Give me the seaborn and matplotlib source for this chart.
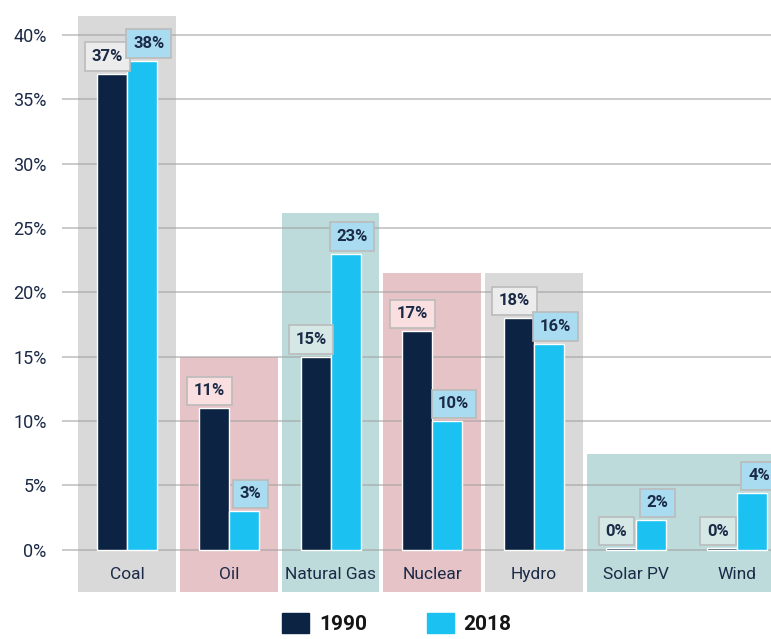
import pandas as pd
import matplotlib.pyplot as plt
import seaborn as sns
from matplotlib.patches import Rectangle, Patch

# share of electricity generation by source
sources = ["Coal", "Oil", "Natural Gas", "Nuclear", "Hydro", "Solar PV", "Wind"]
years = ["1990", "2018"]
share_1990 = [37.0, 11.0, 15.0, 17.0, 18.0, 0.1, 0.1]
share_2018 = [38.0, 3.0, 23.0, 10.0, 16.0, 2.3, 4.4]

# background panels behind the groups: first source, last source, tone, top
panel_first = ["Coal", "Oil", "Natural Gas", "Nuclear", "Hydro", "Solar PV"]
panel_last = ["Coal", "Oil", "Natural Gas", "Nuclear", "Hydro", "Wind"]
panel_tone = ["gray", "pink", "teal", "pink", "gray", "teal"]
panel_top = [41.5, 15.0, 26.2, 21.5, 21.5, 7.45]

navy = "#0c2344"
cyan = "#1ac1f1"
text_col = "#1b2a47"
panel_colors = {"gray": "#d9d9d9", "pink": "#e6c3c6", "teal": "#bddbda"}
label_face = {"gray": "#ececec", "pink": "#f9dfe0", "teal": "#d5e8e6"}

df = pd.DataFrame({
    "source": sources * 2,
    "year": [years[0]] * len(sources) + [years[1]] * len(sources),
    "share": share_1990 + share_2018,
})

sns.set_theme(style="white")
plt.rcParams["font.family"] = ["Roboto", "DejaVu Sans"]

fig = plt.figure(figsize=(7.71, 6.39), dpi=100)
ax = fig.add_axes([62 / 771, 47 / 639, 709 / 771, 578.7 / 639])

sns.barplot(data=df, x="source", y="share", hue="year", order=sources,
            hue_order=years, palette=[navy, cyan], width=0.59, saturation=1,
            legend=False, ax=ax, zorder=3)

ax.set_xlim(-0.64, 6.33)
ax.set_ylim(-3.3, 41.7)

# background panels
tone_of = {}
for first, last, tone, top in zip(panel_first, panel_last, panel_tone, panel_top):
    i0, i1 = sources.index(first), sources.index(last)
    x0 = i0 - 0.48
    x1 = i1 + 0.48 if last != sources[-1] else 7
    ax.add_patch(Rectangle((x0, -3.3), x1 - x0, top + 3.3,
                           facecolor=panel_colors[tone], edgecolor="none", zorder=0.8))
    for s in sources[i0:i1 + 1]:
        tone_of[s] = tone

# grid
ax.set_axisbelow("line")
ax.yaxis.grid(True, color="#a0a0a0", alpha=0.55, linewidth=1.4)
ax.xaxis.grid(False)
ax.set_yticks(range(0, 45, 5))
ax.set_yticklabels([f"{t}%" for t in range(0, 45, 5)])
ax.tick_params(axis="y", length=0, pad=11, labelsize=13, labelcolor=text_col)
ax.tick_params(axis="x", length=0, pad=-18, labelsize=12.5, labelcolor=text_col)
for s in ax.spines.values():
    s.set_visible(False)
ax.set_xlabel("")
ax.set_ylabel("")

# value labels
for container, year in zip(ax.containers, years):
    for bar, src in zip(container, sources):
        h = bar.get_height()
        cx = bar.get_x() + bar.get_width() / 2
        if year == years[0]:
            dx, face = -3.2, label_face[tone_of[src]]
        else:
            dx, face = 4.7, "#a9dcf0"
        ax.annotate(f"{round(h):.0f}%", (cx, h), xytext=(dx, 7.0),
                    textcoords="offset points", ha="center", va="bottom",
                    fontsize=12, fontweight="bold", color=text_col, zorder=5,
                    bbox=dict(boxstyle="square,pad=0.4", facecolor=face,
                              edgecolor="#bbbbbb", linewidth=1.2))

handles = [Patch(color=navy, label="1990"), Patch(color=cyan, label="2018")]
leg = fig.legend(handles=handles, loc="lower center", bbox_to_anchor=(0.515, 0.008),
                 ncol=2, frameon=False, prop=dict(weight="bold", size=15),
                 handlelength=1.3, handleheight=1.1, handletextpad=0.45,
                 columnspacing=2.9, borderpad=0, borderaxespad=0)
for t in leg.get_texts():
    t.set_color("#151515")

fig.savefig("out.png", dpi=100)
